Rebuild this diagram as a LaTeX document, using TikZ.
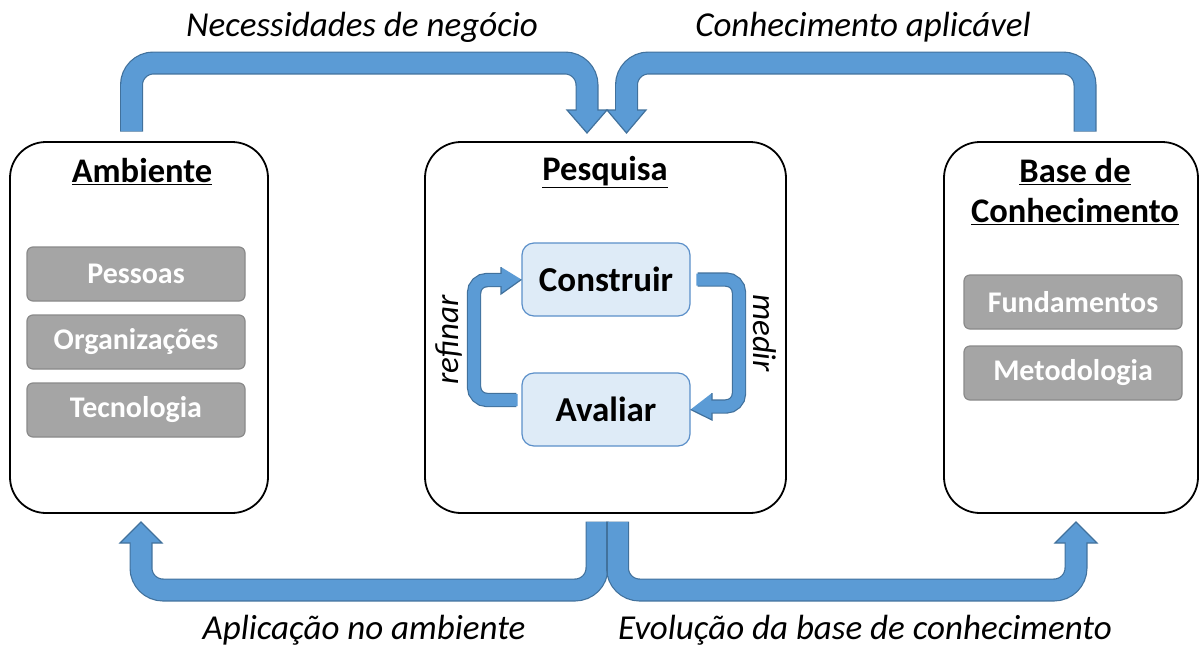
\documentclass[tikz,border=0pt]{standalone}
\usepackage{fontspec}
\setmainfont{Carlito}
\definecolor{arrowblue}{HTML}{5B9BD5}
\definecolor{arrowborder}{HTML}{41719C}
\definecolor{lightbox}{HTML}{DEEBF7}
\definecolor{lightborder}{HTML}{5B8FC9}
\definecolor{grayfill}{HTML}{A5A5A5}
\definecolor{grayborder}{HTML}{8A8A8A}
\begin{document}
\begin{tikzpicture}[x=1pt,y=-1pt,
  bigbox/.style={draw=black, line width=1.8pt, rounded corners=36pt, fill=white},
  graybox/.style={draw=grayborder, fill=grayfill, line width=1.2pt, rounded corners=6pt,
    minimum width=218pt, minimum height=54pt, font=\fontsize{30}{36}\selectfont\bfseries, text=white},
  lbox/.style={draw=lightborder, fill=lightbox, line width=1.2pt, rounded corners=12pt,
    minimum width=168pt, minimum height=73pt, font=\fontsize{35}{42}\selectfont\bfseries},
  title/.style={font=\fontsize{34.5}{40}\selectfont\bfseries, align=center},
  lab/.style={font=\fontsize{35}{40}\selectfont\itshape},
  shaftout/.style={draw=arrowborder, line width=23pt, rounded corners=22pt},
  shaftin/.style={draw=arrowblue, line width=20.6pt, rounded corners=22pt},
  sshaftout/.style={draw=arrowborder, line width=14.4pt, rounded corners=13pt},
  sshaftin/.style={draw=arrowblue, line width=12pt, rounded corners=13pt},
  ahead/.style={fill=arrowblue, draw=arrowborder, line width=1.2pt, line join=miter}
]
\useasboundingbox (0,0) rectangle (1203,649);

% big boxes
\path[bigbox] (10,142) rectangle (268,513);
\path[bigbox] (425,142) rectangle (786,513);
\path[bigbox] (944,142) rectangle (1198,513);

% titles
\node[title] (tamb) at (142,172) {\underline{Ambiente}};
\node[title] (tpes) at (605,172) {\underline{Pesquisa}};
\node[title] (tbas1) at (1075,172) {\underline{Base de}};
\node[title] (tbas2) at (1075,212) {\underline{Conhecimento}};

% gray boxes
\node[graybox] (p1) at (136,274) {Pessoas};
\node[graybox] (p2) at (136,342) {Organizações};
\node[graybox] (p3) at (136,410) {Tecnologia};
\node[graybox] (f1) at (1073,302) {Fundamentos};
\node[graybox] (f2) at (1073,373) {Metodologia};

% inner boxes
\node[lbox] (con) at (606,279.5) {Construir};
\node[lbox] (ava) at (606,409.5) {Avaliar};

% medir arrow
\draw[sshaftout] (con.east) ++(7,0) coordinate (m0) -- (739,279.5) -- (739,406.5) -- (712,406.5);
\draw[ahead] (712,393) -- (712,420) -- (ava.east) ++(8,-3) -- cycle;
\draw[sshaftin] (696.4,279.5) -- (739,279.5) -- (739,406.5) -- (711,406.5);
% refinar arrow
\draw[sshaftout] (ava.west) ++(-5,-9.5) -- (474,400) -- (474,280) -- (501,280);
\draw[ahead] (501,267) -- (501,294) -- (con.west) ++(-4,0.5) -- cycle;
\draw[sshaftin] (517.6,400) -- (474,400) -- (474,280) -- (502,280);

\node[font=\fontsize{33}{38}\selectfont\itshape, rotate=90] (ref) at (449,340) {refinar};
\node[font=\fontsize{33}{38}\selectfont\itshape, rotate=-90] (med) at (765,333) {medir};

% top left arrow
\draw[shaftout] (131.5,131.5) -- (131.5,63) -- (587,63) -- (587,110);
\draw[ahead] (567,110) -- (607,110) -- (587,133) -- cycle;
\draw[shaftin] (131.5,130.9) -- (131.5,63) -- (587,63) -- (587,111);
% top right arrow
\draw[shaftout] (1085,131.5) -- (1085,63) -- (626.5,63) -- (626.5,110);
\draw[ahead] (607,110) -- (646,110) -- (626.5,133) -- cycle;
\draw[shaftin] (1085,130.9) -- (1085,63) -- (626.5,63) -- (626.5,111);

% bottom left arrow
\draw[shaftout] (597,521.5) -- (597,590) -- (141,590) -- (141,543);
\draw[ahead] (120,543) -- (162,543) -- (141,522) -- cycle;
\draw[shaftin] (597,522.2) -- (597,590) -- (141,590) -- (141,542);
% bottom right arrow
\draw[shaftout] (617.5,521.5) -- (617.5,590) -- (1076,590) -- (1076,543);
\draw[ahead] (1055,543) -- (1097,543) -- (1076,522) -- cycle;
\draw[shaftin] (617.5,522.2) -- (617.5,590) -- (1076,590) -- (1076,542);
\draw[arrowborder, line width=1.2pt] (607.2,521.5) -- (607.2,575);

% labels
\node[lab] (l1) at (362,27) {Necessidades de negócio};
\node[lab] (l2) at (863,27) {Conhecimento aplicável};
\node[lab] (l3) at (364,630) {Aplicação no ambiente};
\node[lab] (l4) at (865,630) {Evolução da base de conhecimento};
\end{tikzpicture}
\end{document}
